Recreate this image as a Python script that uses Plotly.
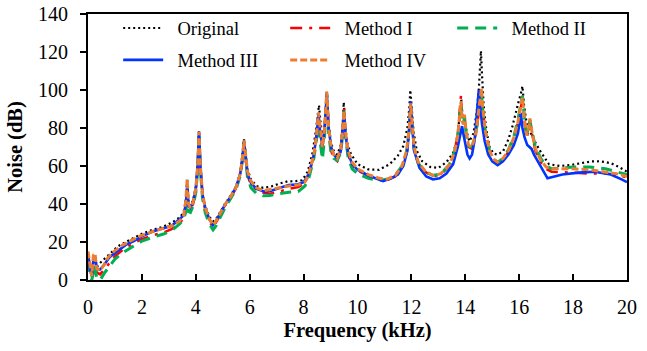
import plotly.graph_objects as go

# ---------------- data (frequency in kHz, noise in dB) ----------------
orig_f = [0, 0.07, 0.14, 0.2, 0.26, 0.33, 0.45, 0.6, 0.8, 1.1, 1.4, 1.7, 2.0, 2.4, 2.8, 3.15, 3.45, 3.58, 3.64, 3.68,
          3.73, 3.8, 3.9, 4.0, 4.07, 4.12, 4.17, 4.25, 4.35, 4.5, 4.64, 4.75, 4.9, 5.1, 5.3, 5.5, 5.65, 5.74, 5.79, 5.84,
          5.92, 6.05, 6.25, 6.5, 6.8, 7.1, 7.4, 7.7, 7.95, 8.15, 8.32, 8.45, 8.52, 8.57, 8.63, 8.7, 8.78, 8.86, 8.93, 9.02,
          9.12, 9.25, 9.38, 9.45, 9.49, 9.54, 9.62, 9.75, 10.0, 10.4, 10.8, 11.2, 11.5, 11.7, 11.85, 11.92, 11.96, 12.01,
          12.08, 12.2, 12.4, 12.7, 13.0, 13.3, 13.55, 13.7, 13.8, 13.85, 13.9, 13.97, 14.05, 14.15, 14.3, 14.42, 14.5,
          14.55, 14.58, 14.62, 14.68, 14.78, 14.9, 15.05, 15.2, 15.4, 15.6, 15.75, 15.88, 15.98, 16.06, 16.12, 16.18,
          16.26, 16.35, 16.5, 16.75, 16.95, 17.1, 17.5, 17.9, 18.3, 18.7, 19.0, 19.4, 19.7, 20.0]
orig_db = [12, 6, 3, 11, 12, 7, 9, 11, 14, 17.6, 20, 22, 24.3, 26.4, 28.1, 30.5, 33.5, 37, 44, 53.5,
           41, 39, 42, 49, 61, 78.5, 61, 46, 39, 33.4, 30.8, 32, 36, 40.5, 44.5, 49.5, 56.5, 66, 74, 67,
           58, 53, 49.5, 48.5, 49.2, 50.7, 51.9, 52, 52.5, 57, 66, 78, 88, 92, 83, 74, 82, 99, 82, 72,
           68, 66, 71, 82, 93.5, 82, 72, 66.5, 61, 58.2, 58, 61, 65.5, 70.5, 80, 90, 100, 92,
           78, 68, 62.5, 59.5, 59, 62, 67, 74, 86, 95, 86, 85, 78, 73, 77, 88, 100,
           113, 120.5, 108, 92, 79, 70, 66.5, 66, 67.7, 74, 81, 89, 94, 98, 102, 92,
           84, 80, 75, 68.5, 64, 61, 60, 60.5, 61.5, 62.4, 62.5, 61.5, 59.5, 57]

m_f = [0, 0.07, 0.14, 0.2, 0.26, 0.32, 0.45, 0.6, 0.75, 1.0, 1.3, 1.7, 2.0, 2.4, 2.8, 3.1, 3.4, 3.55, 3.63, 3.68,
       3.73, 3.8, 3.9, 4.0, 4.07, 4.12, 4.17, 4.25, 4.35, 4.5, 4.64, 4.75, 4.9, 5.1, 5.3, 5.5, 5.65, 5.74, 5.79, 5.84,
       5.92, 6.05, 6.25, 6.5, 6.75, 7.1, 7.45, 7.8, 8.05, 8.2, 8.38, 8.48, 8.55, 8.62, 8.7, 8.78, 8.86, 8.93, 9.02, 9.12,
       9.25, 9.38, 9.46, 9.5, 9.55, 9.65, 9.8, 10.0, 10.4, 10.8, 11.1, 11.4, 11.65, 11.82, 11.92, 11.97, 12.02, 12.1,
       12.25, 12.5, 12.8, 13.1, 13.4, 13.6, 13.72, 13.8, 13.84, 13.88, 13.93, 13.97, 14.03, 14.12, 14.25, 14.4, 14.5,
       14.56, 14.6, 14.65, 14.75, 14.9, 15.05, 15.2, 15.4, 15.6, 15.8, 15.95, 16.05, 16.12, 16.2, 16.28, 16.35, 16.4,
       16.46, 16.6, 16.8, 17.0, 17.2, 17.6, 18.0, 18.6, 19.2, 19.6, 20.0]

m1_db = [14, 7, 1, 11, 12, 4, 3, 5.5, 8, 12.5, 16, 19.5, 21.5, 23.5, 25, 26.8, 29.5, 33, 40, 50,
         38, 37, 40, 47, 59, 77, 59, 44, 37, 31, 27.5, 30, 34, 39.5, 43.5, 48.5, 55.5, 64, 72.5, 64,
         55, 50, 47.5, 46, 45.4, 46.5, 48, 48.9, 51, 55.5, 66, 76, 87.5, 77, 68, 79, 98.5, 79, 68, 64,
         62.5, 68, 80, 91, 78, 66, 60, 57.5, 55, 53, 52.5, 54.5, 59.5, 67, 79, 92, 83, 69,
         61, 57, 54.5, 55.5, 60, 67, 77, 90, 97, 85, 82, 86, 77, 70, 69, 77, 89,
         97, 99, 89, 77, 67, 62.5, 61, 63, 67.5, 74.5, 82.5, 90, 95, 83, 75, 79, 84,
         78, 68, 62, 58.5, 57, 56.6, 56.5, 56, 56, 55.5, 54]

m2_db = [10, 3, 0, 5, 8, 1, 0, 3.5, 6.5, 11, 14.5, 18, 20.5, 22.5, 24.2, 26, 29.5, 32, 36, 45,
         36, 35.5, 39, 46, 58, 77.5, 58, 43, 35.5, 29.5, 26.4, 28.5, 33, 38.5, 43, 48, 55, 64, 73, 64,
         54, 48.5, 45.5, 44.3, 44.5, 45.5, 46.2, 46.5, 49.5, 54, 64, 74, 86, 72, 63.5, 76, 97.5, 77, 66.8, 64,
         63, 67, 78, 89, 76, 64.5, 58.5, 56, 53.5, 52.5, 53, 55, 60, 67, 79, 92, 83, 69,
         61.5, 57, 55, 56, 60.5, 67.5, 76, 87, 92, 84, 82, 86, 77, 70.5, 70, 78, 89,
         96, 98, 89, 77.5, 68, 63.5, 62, 64, 68.5, 75.5, 84, 92, 97, 85, 77, 80, 84,
         79, 70, 64, 60, 58.5, 59, 59.5, 59.5, 58.5, 57, 55.5]

m4_db = [15, 8, 2, 13, 14, 6, 5, 8, 12, 15.5, 18.5, 21.5, 23.5, 25.5, 27.2, 28.5, 31, 34, 42, 53,
         40, 38, 41, 48, 60, 78, 60, 45, 38, 32, 29, 31, 35, 40, 44, 49, 56, 65, 73.5, 66,
         57, 52, 48.5, 47, 47.5, 48.5, 49.5, 50, 51.5, 56, 66, 76, 88, 78, 70, 80, 99, 80, 70, 66,
         64, 69, 80, 89, 78, 68, 62, 58.5, 55.5, 53.5, 53, 55, 60, 68, 80, 93, 84, 70,
         62, 57.5, 55, 56, 60.5, 67, 76, 88, 94, 84, 82, 87, 78, 71, 70, 78, 90,
         99, 101, 90, 78, 68, 63.5, 62, 64, 68, 75, 83, 91, 96, 84, 76, 80, 85,
         79, 69, 63, 59.5, 58.5, 58.5, 58.5, 58, 57, 56, 54.5]

m3_f = [0, 0.07, 0.14, 0.2, 0.26, 0.33, 0.44, 0.6, 0.8, 1.1, 1.4, 1.7, 2.0, 2.4, 2.8, 3.1, 3.35, 3.55, 3.63, 3.68,
        3.73, 3.8, 3.9, 4.0, 4.07, 4.12, 4.17, 4.25, 4.35, 4.5, 4.64, 4.75, 4.9, 5.1, 5.3, 5.5, 5.65, 5.74, 5.79, 5.84,
        5.92, 6.05, 6.25, 6.55, 6.8, 7.1, 7.45, 7.75, 8.0, 8.2, 8.38, 8.48, 8.55, 8.62, 8.7, 8.78, 8.86, 8.93, 9.02, 9.12,
        9.25, 9.38, 9.46, 9.5, 9.55, 9.65, 9.8, 10.0, 10.4, 10.95, 11.25, 11.5, 11.7, 11.85, 11.93, 11.97, 12.02, 12.1,
        12.3, 12.55, 12.8, 13.05, 13.3, 13.55, 13.72, 13.82, 13.88, 13.94, 14.0, 14.08, 14.16, 14.25, 14.35, 14.43, 14.5,
        14.55, 14.62, 14.72, 14.85, 15.0, 15.2, 15.4, 15.6, 15.8, 15.95, 16.02, 16.06, 16.12, 16.2, 16.3, 16.4, 16.46,
        16.55, 17.05, 17.6, 18.2, 18.8, 19.4, 19.8, 20.0]
m3_db = [13, 6, 2, 10, 12, 6, 5.5, 8, 12, 15.5, 18.5, 20.5, 23, 25.5, 27, 28.5, 31.5, 34, 40, 50,
         39, 38, 41, 48, 60, 78, 60, 45, 38, 32, 29, 31, 35, 40, 44, 49, 56, 65, 73, 65,
         56, 51, 48, 46.5, 47, 48.4, 50, 50.2, 51.5, 56, 66, 76, 87, 77, 70, 80, 98, 80, 70, 66,
         64, 68, 79, 88, 77, 67, 61, 58, 55, 52, 53.5, 55.5, 60, 68, 82, 94, 83, 68,
         59, 54.5, 53, 53.5, 56, 61, 70, 78, 81, 76, 71, 66, 64, 66, 74, 86, 100,
         92, 82, 73, 66, 62.5, 60.5, 62.5, 66, 71, 77, 83, 88, 80, 75, 71, 70, 69,
         66, 53.5, 55.5, 56.5, 57, 55.5, 53, 51.5]

series_names = ["Original", "Method I", "Method II", "Method III", "Method IV"]
x_ticks = [0, 2, 4, 6, 8, 10, 12, 14, 16, 18, 20]
y_ticks = [0, 20, 40, 60, 80, 100, 120, 140]

FONT = "Liberation Serif, Times New Roman, serif"
GAP = "\u00a0\u00a0"

fig = go.Figure()
fig.add_trace(go.Scatter(x=orig_f, y=orig_db, mode="lines", name=GAP + series_names[0], legend="legend",
                         line=dict(color="#000000", width=2.2, dash="2px,3px")))
fig.add_trace(go.Scatter(x=m_f, y=m1_db, mode="lines", name=GAP + series_names[1], legend="legend",
                         line=dict(color="#FF0000", width=2.5, dash="12px,7px,3px,7px")))
fig.add_trace(go.Scatter(x=m_f, y=m2_db, mode="lines", name=GAP + series_names[2], legend="legend",
                         line=dict(color="#00B050", width=3, dash="11px,7px")))
fig.add_trace(go.Scatter(x=m3_f, y=m3_db, mode="lines", name=GAP + series_names[3], legend="legend2",
                         line=dict(color="#0035FF", width=2.6)))
fig.add_trace(go.Scatter(x=m_f, y=m4_db, mode="lines", name=GAP + series_names[4], legend="legend2",
                         line=dict(color="#ED7D31", width=3, dash="7px,3px")))

legend_common = dict(orientation="h", x=0.056, xanchor="left", yanchor="top",
                     entrywidth=112, entrywidthmode="pixels", itemwidth=40,
                     font=dict(family=FONT, size=18.5, color="#000000"),
                     bgcolor="rgba(0,0,0,0)", tracegroupgap=0)

fig.update_layout(
    width=647, height=351,
    margin=dict(l=88, r=20, t=14, b=71, autoexpand=False),
    paper_bgcolor="white", plot_bgcolor="white",
    font=dict(family=FONT, size=20, color="#000000"),
    showlegend=True,
    legend=dict(y=1.017, **legend_common),
    legend2=dict(y=0.897, **legend_common),
    xaxis=dict(range=[0, 20], tickvals=x_ticks, ticks="inside", ticklen=6, tickwidth=2,
               tickcolor="#000", showline=True, linewidth=2, linecolor="#000", mirror=True,
               showgrid=False, zeroline=False, ticklabelstandoff=8, automargin=False,
               tickfont=dict(family=FONT, size=20),
               title=dict(text="<b>Frequency (kHz)</b>", font=dict(family=FONT, size=20.5), standoff=6)),
    yaxis=dict(range=[0, 140], tickvals=y_ticks, ticks="outside", ticklen=6, tickwidth=2,
               tickcolor="#000", showline=True, linewidth=2, linecolor="#000", mirror=True,
               showgrid=False, zeroline=False, ticklabelstandoff=8, automargin=False,
               tickfont=dict(family=FONT, size=20),
               title=dict(text="<b>Noise (dB)</b>", font=dict(family=FONT, size=20.5), standoff=10)),
)

fig.write_html("out.html")
